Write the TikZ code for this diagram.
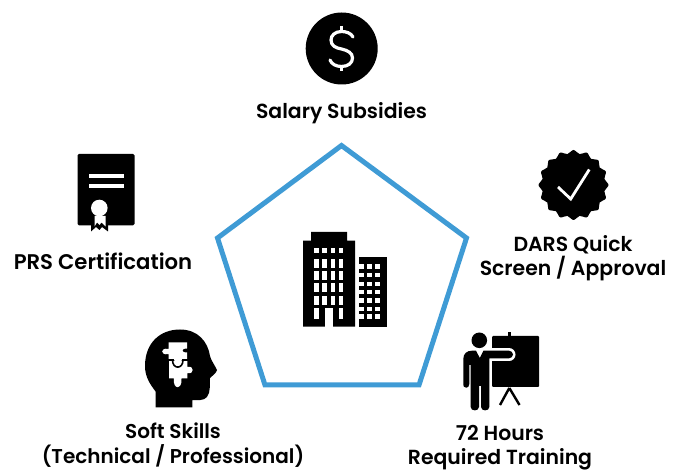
\documentclass[tikz,border=0pt]{standalone}
\usepackage{fontspec}
\setmainfont{Poppins}[BoldFont={Poppins SemiBold}]
\usetikzlibrary{calc}
\definecolor{penta}{HTML}{3F9BD5}
\definecolor{ink}{HTML}{000000}
\tikzset{
  lbl/.style={font=\fontsize{20.4}{24}\selectfont\bfseries, align=center, text=ink, inner sep=0pt},
  wline/.style={draw=white, line width=4pt},
  win/.style={fill=white, draw=none},
}
\begin{document}
\begin{tikzpicture}[x=1pt,y=-1pt]
\useasboundingbox (0,0) rectangle (678,470);
% pentagon
\draw[penta, line width=5pt, line join=miter] (341.5,145.5) -- (466.5,238) -- (419,385) -- (265,385) -- (217.5,238) -- cycle;
% dollar
\fill[ink] (341.7,48.5) circle (36);
\draw[white, line width=3.2pt, line cap=round] (353,37) .. controls (351,33) and (346,31.5) .. (341.5,31.5)
  .. controls (335,31.5) and (331,35.5) .. (331,40) .. controls (331,46) and (336,48) .. (341.5,49)
  .. controls (348,50.5) and (352.5,53) .. (352.5,58) .. controls (352.5,63) and (348,66.5) .. (341.5,66.5)
  .. controls (336,66.5) and (331.5,64) .. (330,60);
\draw[white, line width=3.2pt] (341.5,26) -- (341.5,32) (341.5,66) -- (341.5,71);
% certificate
\fill[ink, rounded corners=1.5pt] (77.5,154) rectangle (134.5,225.5);
\fill[ink] (91,222) -- (108,222) -- (108,231.5) -- (102,227) -- (99.5,230) -- (96,227) -- (91,231.5) -- cycle;
\fill[white] (94.5,216) -- (105.5,216) -- (105.5,226.5) -- (101.5,222.5) -- (99.5,225) -- (97,222.5) -- (94.5,226.5) -- cycle;
\draw[wline] (89,176) -- (124,176) (89,186) -- (124,186);
\fill[white] (99.3,208) circle (8.3);
% badge
\fill[ink] plot[smooth cycle, tension=0.6] coordinates {
  (573.5+35*cos 0,185+35*sin 0)
  (573.5+31.5*cos 11.25,185+31.5*sin 11.25) (573.5+35*cos 22.5,185+35*sin 22.5)
  (573.5+31.5*cos 33.75,185+31.5*sin 33.75) (573.5+35*cos 45,185+35*sin 45)
  (573.5+31.5*cos 56.25,185+31.5*sin 56.25) (573.5+35*cos 67.5,185+35*sin 67.5)
  (573.5+31.5*cos 78.75,185+31.5*sin 78.75) (573.5+35*cos 90,185+35*sin 90)
  (573.5+31.5*cos 101.25,185+31.5*sin 101.25) (573.5+35*cos 112.5,185+35*sin 112.5)
  (573.5+31.5*cos 123.75,185+31.5*sin 123.75) (573.5+35*cos 135,185+35*sin 135)
  (573.5+31.5*cos 146.25,185+31.5*sin 146.25) (573.5+35*cos 157.5,185+35*sin 157.5)
  (573.5+31.5*cos 168.75,185+31.5*sin 168.75) (573.5+35*cos 180,185+35*sin 180)
  (573.5+31.5*cos 191.25,185+31.5*sin 191.25) (573.5+35*cos 202.5,185+35*sin 202.5)
  (573.5+31.5*cos 213.75,185+31.5*sin 213.75) (573.5+35*cos 225,185+35*sin 225)
  (573.5+31.5*cos 236.25,185+31.5*sin 236.25) (573.5+35*cos 247.5,185+35*sin 247.5)
  (573.5+31.5*cos 258.75,185+31.5*sin 258.75) (573.5+35*cos 270,185+35*sin 270)
  (573.5+31.5*cos 281.25,185+31.5*sin 281.25) (573.5+35*cos 292.5,185+35*sin 292.5)
  (573.5+31.5*cos 303.75,185+31.5*sin 303.75) (573.5+35*cos 315,185+35*sin 315)
  (573.5+31.5*cos 326.25,185+31.5*sin 326.25) (573.5+35*cos 337.5,185+35*sin 337.5)
  (573.5+31.5*cos 348.75,185+31.5*sin 348.75)};
\draw[white, line width=2.8pt, line join=miter] (558,187) -- (570.7,199) -- (589.3,169.5);
% building
\fill[ink] (303,326.7) -- (303,240.7) -- (311,240.7) -- (311,232) -- (347,232) -- (347,240.7) -- (355,240.7) -- (355,326.7) -- cycle;
\fill[ink] (359.3,256.7) rectangle (387.3,326.7);
\foreach \xa/\xb in {314.3/319.3, 322.3/327.3, 330.7/335, 339/343.3} {
  \fill[win] (\xa,248.3) rectangle (\xb,252.7);
  \foreach \ya/\yb in {259/267.7, 271/280, 283.3/292.3, 296/305} {
    \fill[win] (\xa,\ya) rectangle (\xb,\yb);
  }
}
\fill[win] (314.3,308.3) rectangle (319.3,319);
\fill[win] (339,308.3) rectangle (343.3,319);
\fill[win] (325,308.3) rectangle (333.3,326.7);
\foreach \ya/\yb in {264.3/269, 273.3/277.3, 281.7/286, 290/294.3, 298.3/302.7, 306.7/310.7, 314.3/318.7} {
  \fill[win] (359.3,\ya) rectangle (364,\yb);
  \fill[win] (367.3,\ya) rectangle (372,\yb);
  \fill[win] (375.3,\ya) rectangle (380,\yb);
}
% head
\fill[ink] (155.7,407.5) -- (155.7,391.7)
  .. controls (150,384) and (145,377) .. (145,366)
  .. controls (145,343) and (160,329.5) .. (180,329.5)
  .. controls (198,329.5) and (208,342) .. (210,356)
  .. controls (211,360) and (214,364) .. (217,370)
  .. controls (216.5,373) and (212,376) .. (210,378)
  .. controls (209.5,383) and (211,392) .. (207,397)
  .. controls (204,401) and (197,400) .. (192.3,400) -- (192.3,407.5) -- cycle;
% puzzle, upper piece
\fill[white] (168.5,342.5) -- (187,342.5) -- (187,348.5) .. controls (181,347.5) and (181,353.5) .. (187,352.5) -- (187,359)
  -- (168.5,359) -- (168.5,354) .. controls (160,356) and (160,347) .. (168.5,349) -- cycle;
% puzzle, lower piece
\fill[white] (169,360.5) -- (187.3,360.5) -- (187.3,367) .. controls (194.5,365) and (194.5,375) .. (187.3,373) -- (187.3,378.5) -- (181.5,378.5)
  .. controls (182.5,390) and (172.5,390) .. (174,378.5) -- (169,378.5) -- cycle;
\draw[ink, line width=1.6pt] (172.5,360) .. controls (172.5,369.5) and (183,369.5) .. (183,360);
\draw[ink, line width=1.8pt] (168,360) -- (188,360);
\fill[white] (173.5,358) .. controls (173.5,366.5) and (182,366.5) .. (182,358) -- cycle;
% presenter
\fill[ink, rounded corners=1pt] (492,336) rectangle (539,387);
\draw[ink, line width=2.6pt] (509.3,332.5) -- (509.3,337);
\draw[ink, line width=2.4pt] (509.3,388) -- (500,405) (509.3,388) -- (519.5,405);
\draw[white, line width=13pt, line cap=round] (487,354.7) -- (509,354.7);
\fill[ink] (479.3,340.3) circle (7.8);
\fill[ink] (463.3,387) -- (463.3,359) .. controls (463.3,353.5) and (467,350.7) .. (472,350.7)
  -- (476,350.7) -- (479.8,358) -- (483.5,350.7) -- (509,350.7)
  .. controls (511,350.7) and (513,352.5) .. (513,354.5) .. controls (513,356.5) and (511,358.3) .. (509,358.3)
  -- (489.3,358.3) -- (489.3,407) .. controls (489.3,411.5) and (481,411.5) .. (481,407)
  -- (481,386) -- (479,386) -- (479,407) .. controls (479,411.5) and (470.7,411.5) .. (470.7,407)
  -- (470.7,365) -- (469.3,365) -- (469.3,384) .. controls (469.3,389) and (463.3,389) .. (463.3,384) -- cycle;
% labels
\node[lbl] (sal) at (341.5,113) {Salary Subsidies};
\node[lbl, font=\fontsize{21.2}{24}\selectfont\bfseries] (prs) at (103,261.5) {PRS Certification};
\node[lbl] (dars) at (573,258) {DARS Quick\\Screen / Approval};
\node[lbl, font=\fontsize{20}{24.5}\selectfont\bfseries] (soft) at (173,445) {Soft Skills\\(Technical / Professional)};
\node[lbl] (hrs) at (500,447.5) {72 Hours\\Required Training};
\end{tikzpicture}
\end{document}
